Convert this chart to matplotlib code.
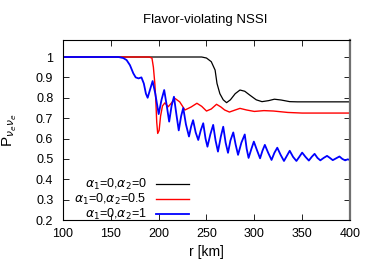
import matplotlib
matplotlib.use('Agg')
import matplotlib.pyplot as plt

plt.rcParams['font.family'] = ['Liberation Sans', 'DejaVu Sans']
plt.rcParams['font.size'] = 9
plt.rcParams['mathtext.fontset'] = 'dejavusans'

# alpha1=0, alpha2=0
r_black = [100, 245, 250, 255, 259, 261, 264, 267.5, 271, 275, 280, 285, 290, 295,
           302, 308, 315, 321, 328, 337, 345, 400]
p_black = [1.0, 1.0, 0.995, 0.977, 0.936, 0.87, 0.82, 0.79, 0.776, 0.79, 0.82, 0.838,
           0.832, 0.814, 0.79, 0.781, 0.786, 0.793, 0.789, 0.781, 0.780, 0.780]

# alpha1=0, alpha2=0.5
r_red = [100, 190, 193, 194.5, 196, 197, 198, 199, 200.5, 202, 204, 206.5, 210, 213.5,
         217, 222, 227.5, 234, 240, 245, 250, 255, 260.5, 265, 269, 274, 280, 285, 292,
         300, 310, 320, 335, 350, 400]
p_red = [1.0, 1.0, 0.995, 0.95, 0.87, 0.79, 0.68, 0.625, 0.64, 0.71, 0.76, 0.775, 0.756,
         0.775, 0.797, 0.78, 0.74, 0.755, 0.773, 0.758, 0.735, 0.745, 0.768, 0.755, 0.74,
         0.73, 0.74, 0.748, 0.74, 0.733, 0.737, 0.735, 0.728, 0.725, 0.725]

# alpha1=0, alpha2=1
r_blue = [100, 158, 163, 166.5, 170, 173.5, 176, 179, 182, 184.5, 186.7, 188.5, 191,
          193.7, 196.5, 200, 203, 205.8, 208.5, 211, 213.5, 216, 218.5, 221, 223.5, 225.7,
          228.5, 231.7, 234, 236, 238.7, 241.4, 244, 246.6, 249, 251, 254, 257, 259.5,
          262, 265, 267.5, 270, 272.5, 275, 278, 280.5, 283, 286.5, 290, 292, 294, 297,
          299.5, 303, 306, 308.5, 311, 314.5, 318, 321, 324, 327.5, 331, 334, 337, 340.5,
          344, 347, 350, 353.5, 357, 360, 363, 366, 369, 372.5, 376, 379, 382, 385.5, 389,
          392, 395, 397.5, 400]
p_blue = [1.0, 1.0, 0.995, 0.985, 0.96, 0.92, 0.90, 0.895, 0.90, 0.87, 0.82, 0.80, 0.84,
          0.882, 0.82, 0.72, 0.79, 0.838, 0.76, 0.683, 0.76, 0.805, 0.72, 0.64, 0.71, 0.75,
          0.67, 0.61, 0.66, 0.69, 0.63, 0.593, 0.64, 0.675, 0.60, 0.56, 0.62, 0.667, 0.59,
          0.536, 0.61, 0.658, 0.58, 0.53, 0.59, 0.63, 0.57, 0.52, 0.58, 0.62, 0.55, 0.505,
          0.55, 0.585, 0.54, 0.503, 0.54, 0.569, 0.53, 0.495, 0.53, 0.555, 0.52, 0.49, 0.515,
          0.54, 0.51, 0.49, 0.51, 0.531, 0.51, 0.492, 0.51, 0.525, 0.505, 0.493, 0.505, 0.515,
          0.505, 0.494, 0.503, 0.512, 0.50, 0.493, 0.498, 0.495]

labels = [r'$\alpha_1$=0,$\alpha_2$=0', r'$\alpha_1$=0,$\alpha_2$=0.5', r'$\alpha_1$=0,$\alpha_2$=1']
x_ticks = [100, 150, 200, 250, 300, 350, 400]
y_ticks = [0.2, 0.3, 0.4, 0.5, 0.6, 0.7, 0.8, 0.9, 1.0]
y_ticklabels = ['0.2', '0.3', '0.4', '0.5', '0.6', '0.7', '0.8', '0.9', '1']

fig = plt.figure(figsize=(3.74, 2.62), dpi=100)
ax = fig.add_axes([0.1684, 0.160, 0.7674, 0.687])

ax.plot(r_black, p_black, color='black', linewidth=0.9, label=labels[0])
ax.plot(r_red, p_red, color='red', linewidth=1.0, label=labels[1])
ax.plot(r_blue, p_blue, color='blue', linewidth=1.3, label=labels[2],
        solid_joinstyle='round')

ax.set_xlim(100, 400)
ax.set_ylim(0.2, 1.083)
ax.set_xticks(x_ticks)
ax.set_yticks(y_ticks)
ax.set_yticklabels(y_ticklabels)
ax.tick_params(direction='in', length=4, width=0.6, top=True, right=True)
ax.tick_params(axis='x', pad=5.5)
ax.tick_params(axis='y', pad=7)
for s in ax.spines.values():
    s.set_linewidth(0.8)
ax.spines['right'].set_color('#707070')
ax.spines['right'].set_linewidth(1.6)

ax.set_xlabel('r [km]', fontsize=10, labelpad=4)
ax.set_ylabel(r'P$_{\nu_e\nu_e}$', fontsize=11)
ax.yaxis.set_label_coords(-0.152, 0.5)
fig.text(0.55, 0.925, 'Flavor-violating NSSI', ha='center', va='center', fontsize=9.5)

ax.legend(loc='lower left', bbox_to_anchor=(0.0, -0.075), markerfirst=False,
          frameon=False, handlelength=2.6, handletextpad=0.8, labelspacing=0.0,
          fontsize=9)

fig.savefig('out.png', dpi=100)
